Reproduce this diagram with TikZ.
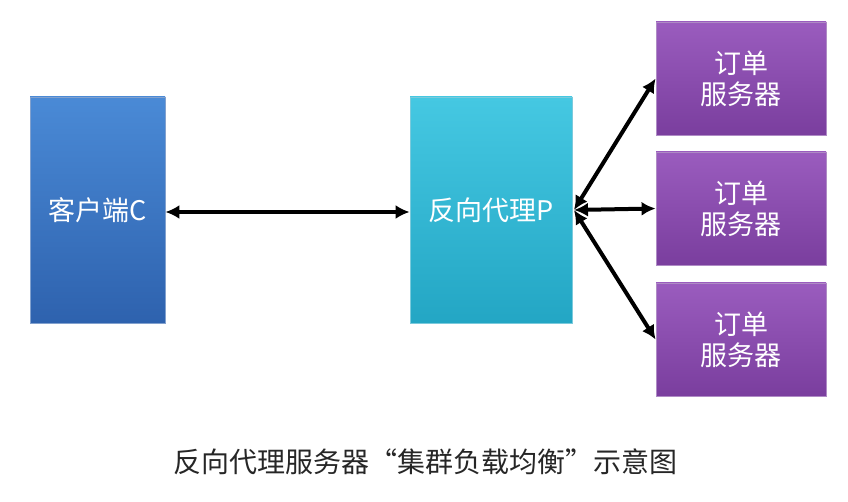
\documentclass[tikz,border=0pt]{standalone}
\usepackage{fontspec}
\setmainfont{Noto Sans CJK SC}
\usetikzlibrary{arrows.meta}
\definecolor{bluetop}{HTML}{4A8AD6}
\definecolor{bluebot}{HTML}{2E62AE}
\definecolor{cyantop}{HTML}{45C8E2}
\definecolor{cyanbot}{HTML}{23A6C4}
\definecolor{purptop}{HTML}{9A5CBE}
\definecolor{purpbot}{HTML}{7A3E9E}
\tikzset{
  box/.style={draw=#1!60!white, line width=0.8pt, inner sep=0pt, font=\fontsize{27pt}{31pt}\selectfont, text=white, align=center},
  conn/.style={{Latex[length=14pt,width=14pt]}-{Latex[length=14pt,width=14pt]}, line width=4pt, black}
}
\begin{document}
\begin{tikzpicture}[x=1pt,y=-1pt]
\useasboundingbox (0,0) rectangle (848,502);
\node[box=bluebot, top color=bluetop, bottom color=bluebot, minimum width=135pt, minimum height=226pt] (c) at (97.5,210) {客户端C};
\node[box=cyanbot, top color=cyantop, bottom color=cyanbot, minimum width=162pt, minimum height=226pt] (p) at (491,210) {反向代理P};
\node[box=purpbot, top color=purptop, bottom color=purpbot, minimum width=170pt, minimum height=113pt] (o1) at (741,78.5) {订单\\服务器};
\node[box=purpbot, top color=purptop, bottom color=purpbot, minimum width=170pt, minimum height=113pt] (o2) at (741,208.5) {订单\\服务器};
\node[box=purpbot, top color=purptop, bottom color=purpbot, minimum width=170pt, minimum height=113pt] (o3) at (741,339.5) {订单\\服务器};
\draw[conn] (c.east |- 0,212) -- (p.west |- 0,212);
\coordinate (ps) at (574,210);
\draw[conn] (ps) -- (o1.west);
\draw[conn] (ps) -- (o2.west);
\draw[conn] (ps) -- (o3.west);
\node[font=\fontsize{28pt}{32pt}\selectfont, text=black!85] (cap) at (425,462) {反向代理服务器“集群负载均衡”示意图};
\end{tikzpicture}
\end{document}
